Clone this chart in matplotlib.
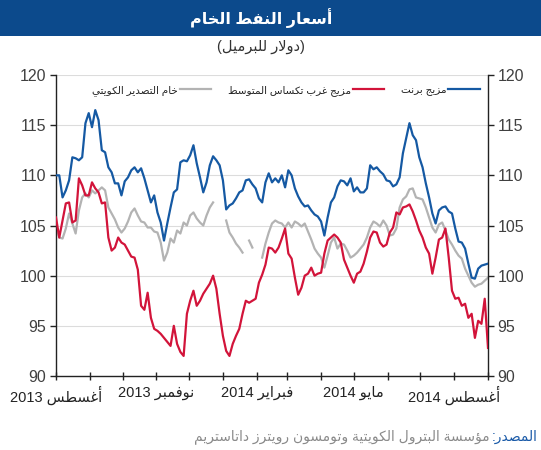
import numpy as np
import pandas as pd
import matplotlib
matplotlib.use("Agg")
import matplotlib.pyplot as plt
from matplotlib.lines import Line2D
from matplotlib.patches import Rectangle

# ---------------- data ----------------
start_date = "2013-08-01"
step = "3D"

brent = [110.0, 110.0, 107.8, 108.5, 109.5, 111.8, 111.7, 111.5, 111.8, 115.2,
         116.2, 114.8, 116.5, 115.5, 112.5, 112.3, 110.8, 110.3, 109.2, 109.2,
         108.0, 109.4, 109.8, 110.5, 110.8, 110.3, 110.7, 109.7, 108.5, 107.3,
         108.0, 106.3, 105.3, 103.5, 105.2, 106.8, 108.3, 108.6, 111.3, 111.5,
         111.4, 112.0, 113.0, 111.2, 109.8, 108.3, 109.3, 111.0, 111.9, 111.5,
         111.0, 109.5, 106.6, 107.0, 107.2, 107.7, 108.3, 108.5, 109.5, 109.6,
         109.1, 108.7, 107.7, 107.3, 109.3, 110.2, 109.3, 109.7, 109.3, 110.0,
         108.8, 110.5, 110.0, 108.7, 107.9, 107.3, 106.9, 107.0, 106.5, 106.1,
         105.9, 105.4, 104.0, 105.8, 107.3, 107.8, 108.9, 109.5, 109.4, 109.0,
         109.7, 108.4, 108.8, 108.3, 108.3, 108.7, 111.0, 110.6, 110.8, 110.4,
         110.1, 109.5, 109.4, 108.9, 109.1, 109.8, 112.2, 113.7, 115.2, 114.0,
         113.5, 111.8, 110.8, 109.2, 107.8, 106.2, 105.2, 106.5, 106.8, 106.9,
         106.4, 106.2, 104.7, 103.4, 103.3, 102.7, 101.2, 99.8, 99.7, 100.7,
         101.0, 101.1, 101.2]

wti = [105.8, 103.8, 105.5, 107.2, 107.3, 105.3, 105.5, 109.7, 109.0, 108.0,
       108.0, 109.3, 108.7, 108.3, 107.2, 107.3, 103.8, 102.5, 102.8, 103.8,
       103.3, 103.1, 102.5, 101.9, 101.8, 100.6, 97.0, 96.6, 98.3, 95.8,
       94.7, 94.5, 94.2, 93.8, 93.4, 93.0, 95.0, 93.2, 92.4, 92.0,
       96.2, 97.5, 98.5, 97.0, 97.5, 98.2, 98.7, 99.2, 100.0, 98.7,
       96.2, 94.0, 92.5, 92.0, 93.2, 94.0, 94.7, 96.2, 97.5, 97.3,
       97.5, 97.7, 99.3, 100.1, 101.1, 102.8, 102.7, 102.3, 102.8, 103.7,
       104.7, 102.2, 101.7, 99.8, 98.1, 98.8, 100.0, 100.2, 100.8, 100.0,
       100.2, 100.3, 102.2, 103.5, 103.8, 104.1, 103.8, 103.3, 101.6, 100.8,
       100.0, 99.3, 100.2, 100.4, 101.2, 102.4, 103.8, 104.4, 104.3, 103.3,
       102.9, 103.1, 104.3, 104.8, 106.3, 106.1, 106.8, 106.9, 107.1, 106.4,
       105.5, 104.5, 103.8, 102.8, 102.2, 100.2, 101.8, 103.6, 103.8, 104.7,
       101.8, 98.5, 97.7, 97.8, 97.0, 97.2, 95.8, 96.2, 93.8, 95.5,
       95.2, 97.7, 92.8]

nan = float("nan")
kuwait = [105.0, 103.8, 103.7, 104.7, 106.2, 105.2, 104.2, 106.5, 107.8, 108.2,
          107.8, 108.5, 108.2, 108.5, 108.8, 108.5, 106.8, 106.2, 105.6, 104.8,
          104.3, 104.7, 105.4, 106.3, 106.7, 106.0, 105.4, 105.3, 104.8, 104.8,
          104.4, 104.3, 103.3, 101.5, 102.3, 103.7, 103.3, 104.5, 104.2, 105.3,
          105.0, 106.0, 106.3, 105.7, 105.3, 105.0, 106.0, 106.8, 107.3, nan,
          nan, nan, 105.5, 104.3, 103.8, 103.2, 102.8, 102.3, nan, 103.5,
          102.8, nan, nan, 101.8, 103.2, 104.3, 105.2, 105.5, 105.3, 105.2,
          104.8, 105.3, 104.8, 105.4, 105.2, 104.9, 105.2, 104.4, 103.6, 102.7,
          102.2, 101.8, 100.8, 102.0, 103.3, 103.8, 102.7, 103.2, 103.1, 102.5,
          101.8, 102.0, 102.3, 102.7, 103.1, 103.8, 104.8, 105.4, 105.2, 104.9,
          105.5, 105.0, 104.0, 104.1, 104.7, 106.8, 107.6, 107.9, 108.6, 108.7,
          107.8, 107.7, 107.6, 106.8, 105.8, 104.8, 104.3, 105.1, 105.3, 104.5,
          103.6, 103.1, 102.5, 102.0, 101.7, 100.7, 100.0, 99.3, 98.9, 99.1,
          99.2, 99.5, 99.8]

series_names = ["خام التصدير الكويتي", "مزيج غرب تكساس المتوسط", "مزيج برنت"]
title = "أسعار النفط الخام"
subtitle = "(دولار للبرميل)"
source_label = "المصدر:"
source_text = "مؤسسة البترول الكويتية وتومسون رويترز داتاستريم"
month_names = {8: "أغسطس", 11: "نوفمبر", 2: "فبراير", 5: "مايو"}
xlim_dates = ("2013-08-01", "2014-09-01")
y_ticks = [90, 95, 100, 105, 110, 115, 120]

# ---------------- simple Arabic shaping (contextual forms + RTL order) ----------------
FORMS = {
    '\u0621': ('\uFE80',),
    '\u0622': ('\uFE81', '\uFE82'), '\u0623': ('\uFE83', '\uFE84'),
    '\u0624': ('\uFE85', '\uFE86'), '\u0625': ('\uFE87', '\uFE88'),
    '\u0626': ('\uFE89', '\uFE8A', '\uFE8B', '\uFE8C'),
    '\u0627': ('\uFE8D', '\uFE8E'),
    '\u0628': ('\uFE8F', '\uFE90', '\uFE91', '\uFE92'),
    '\u0629': ('\uFE93', '\uFE94'),
    '\u062A': ('\uFE95', '\uFE96', '\uFE97', '\uFE98'),
    '\u062B': ('\uFE99', '\uFE9A', '\uFE9B', '\uFE9C'),
    '\u062C': ('\uFE9D', '\uFE9E', '\uFE9F', '\uFEA0'),
    '\u062D': ('\uFEA1', '\uFEA2', '\uFEA3', '\uFEA4'),
    '\u062E': ('\uFEA5', '\uFEA6', '\uFEA7', '\uFEA8'),
    '\u062F': ('\uFEA9', '\uFEAA'), '\u0630': ('\uFEAB', '\uFEAC'),
    '\u0631': ('\uFEAD', '\uFEAE'), '\u0632': ('\uFEAF', '\uFEB0'),
    '\u0633': ('\uFEB1', '\uFEB2', '\uFEB3', '\uFEB4'),
    '\u0634': ('\uFEB5', '\uFEB6', '\uFEB7', '\uFEB8'),
    '\u0635': ('\uFEB9', '\uFEBA', '\uFEBB', '\uFEBC'),
    '\u0636': ('\uFEBD', '\uFEBE', '\uFEBF', '\uFEC0'),
    '\u0637': ('\uFEC1', '\uFEC2', '\uFEC3', '\uFEC4'),
    '\u0638': ('\uFEC5', '\uFEC6', '\uFEC7', '\uFEC8'),
    '\u0639': ('\uFEC9', '\uFECA', '\uFECB', '\uFECC'),
    '\u063A': ('\uFECD', '\uFECE', '\uFECF', '\uFED0'),
    '\u0641': ('\uFED1', '\uFED2', '\uFED3', '\uFED4'),
    '\u0642': ('\uFED5', '\uFED6', '\uFED7', '\uFED8'),
    '\u0643': ('\uFED9', '\uFEDA', '\uFEDB', '\uFEDC'),
    '\u0644': ('\uFEDD', '\uFEDE', '\uFEDF', '\uFEE0'),
    '\u0645': ('\uFEE1', '\uFEE2', '\uFEE3', '\uFEE4'),
    '\u0646': ('\uFEE5', '\uFEE6', '\uFEE7', '\uFEE8'),
    '\u0647': ('\uFEE9', '\uFEEA', '\uFEEB', '\uFEEC'),
    '\u0648': ('\uFEED', '\uFEEE'),
    '\u0649': ('\uFEEF', '\uFEF0'),
    '\u064A': ('\uFEF1', '\uFEF2', '\uFEF3', '\uFEF4'),
}
LAM_ALEF = {'\u0627': ('\uFEFB', '\uFEFC'), '\u0623': ('\uFEF7', '\uFEF8'),
            '\u0625': ('\uFEF9', '\uFEFA'), '\u0622': ('\uFEF5', '\uFEF6')}
MIRROR = {'(': ')', ')': '(', '[': ']', ']': '['}


def _dual(c):
    return c in FORMS and len(FORMS[c]) == 4


def ar(text):
    out = []
    n = len(text)
    i = 0
    while i < n:
        c = text[i]
        if c in FORMS:
            prev = text[i - 1] if i > 0 else ''
            jp = _dual(prev)
            nxt = text[i + 1] if i + 1 < n else ''
            if c == '\u0644' and nxt in LAM_ALEF:
                out.append(LAM_ALEF[nxt][1 if jp else 0])
                i += 2
                continue
            jn = _dual(c) and nxt in FORMS
            f = FORMS[c]
            if len(f) == 1:
                g = f[0]
            elif len(f) == 2:
                g = f[1 if jp else 0]
            else:
                g = f[{(False, False): 0, (True, False): 1,
                       (False, True): 2, (True, True): 3}[(jp, jn)]]
            out.append(g)
        else:
            out.append(c)
        i += 1
    tokens = []
    buf = ''
    for c in out:
        if c.isascii() and (c.isalnum() or c == '.'):
            buf += c
        else:
            if buf:
                tokens.append(buf)
                buf = ''
            tokens.append(MIRROR.get(c, c))
    if buf:
        tokens.append(buf)
    return ''.join(reversed(tokens))


# ---------------- figure ----------------
FONT = ['Liberation Sans', 'DejaVu Sans']
plt.rcParams['font.family'] = FONT

W, H = 541, 450
fig = plt.figure(figsize=(W / 100, H / 100), dpi=100)
fig.patch.set_facecolor('white')

# title bar
fig.patches.append(Rectangle((0, 1 - 36 / H), 1, 36 / H, transform=fig.transFigure,
                             facecolor='#0c4a8c', edgecolor='none', zorder=0))
fig.text(261 / W, 1 - 18 / H, ar(title), ha='center', va='center', color='white',
         fontsize=11.5, fontweight='bold')
fig.text(261 / W, 1 - 47 / H, ar(subtitle), ha='center', va='center', color='#333333',
         fontsize=10.5)

ax = fig.add_axes([56 / W, 1 - 376 / H, (488 - 56) / W, (376 - 75) / H])

dates = pd.date_range(start_date, periods=len(brent), freq=step)
c_kw, c_wti, c_br = '#b3b3b3', '#d2143a', '#1559a3'
LW = 1.6
ax.plot(dates, np.array(kuwait, dtype=float), color=c_kw, lw=LW, zorder=2)
ax.plot(dates, wti, color=c_wti, lw=LW, zorder=3)
ax.plot(dates, brent, color=c_br, lw=LW, zorder=4)

ax.set_xlim(pd.Timestamp(xlim_dates[0]), pd.Timestamp(xlim_dates[1]))
ax.set_ylim(90, 120)
ax.set_yticks(y_ticks)
ax.yaxis.grid(True, color='#dcdcdc', lw=0.8)
ax.set_axisbelow(True)

months = pd.date_range(xlim_dates[0], xlim_dates[1], freq='MS')
labels = []
for m in months:
    if m.month in month_names and not (m == months[-1]):
        labels.append(ar(month_names[m.month] + ' ' + str(m.year)))
    else:
        labels.append('')
ax.set_xticks(months)
ax.set_xticklabels(labels)

ax.spines['top'].set_visible(False)
for s in ['left', 'right', 'bottom']:
    ax.spines[s].set_color('#222222')
    ax.spines[s].set_linewidth(1.0)

ax.tick_params(axis='y', which='both', left=True, right=True, labelleft=True,
               labelright=True, direction='out', length=4, width=1,
               colors='#222222', labelcolor='#404040', labelsize=11.5, pad=3)
ax.tick_params(axis='x', direction='inout', length=6, width=1, colors='#222222',
               labelcolor='#222222', labelsize=10.5, pad=4)

handles = [Line2D([], [], color=c, lw=LW) for c in (c_kw, c_wti, c_br)]
ax.legend(handles, [ar(s) for s in series_names], ncol=3, frameon=False,
          markerfirst=False, loc='center right', bbox_to_anchor=(0.99, 0.95),
          fontsize=7.5, handlelength=3.0, columnspacing=1.6, handletextpad=0.2,
          borderaxespad=0, labelcolor='#222222')

# source line (two colours), right aligned
fig.canvas.draw()
r = fig.canvas.get_renderer()
t1 = fig.text(538 / W, 1 - 437 / H, ar(source_label), ha='right', va='center',
              color='#1a5aa8', fontsize=10)
bb = t1.get_window_extent(renderer=r)
x_left = bb.x0 / fig.bbox.width - 3 / W
fig.text(x_left, 1 - 437 / H, ar(source_text), ha='right', va='center',
         color='#8a8a8a', fontsize=10)

fig.savefig('out.png', dpi=100)
